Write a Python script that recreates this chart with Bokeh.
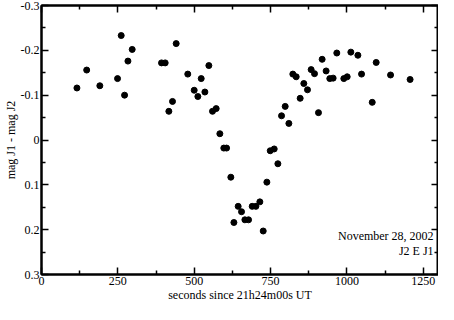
from bokeh.plotting import figure
from bokeh.models import Range1d, LinearAxis, FixedTicker, CustomJSTickFormatter, Label
from bokeh.embed import file_html
from bokeh.resources import INLINE

seconds = [116, 148, 191, 249, 261, 272, 283, 297,
           393, 405, 417, 429, 441, 479, 500, 512, 523, 535, 548, 560, 572, 584,
           597, 606, 620, 630, 644, 655, 666, 678, 690, 702, 715, 726, 738, 749,
           762, 774, 786, 798, 810, 823, 834, 847, 859, 871, 883, 894, 907, 919,
           932, 944, 955, 967, 990, 1001, 1013, 1036, 1048, 1083, 1096, 1143, 1207]
dmag = [-0.116, -0.156, -0.121, -0.137, -0.233, -0.100, -0.176, -0.202,
        -0.172, -0.172, -0.064, -0.086, -0.215, -0.147, -0.111, -0.097, -0.137, -0.107, -0.166, -0.064, -0.070, -0.014,
        0.018, 0.018, 0.083, 0.184, 0.148, 0.160, 0.178, 0.178, 0.148, 0.148, 0.138, 0.203, 0.094, 0.024,
        0.020, 0.053, -0.054, -0.075, -0.037, -0.147, -0.141, -0.093, -0.126, -0.112, -0.157, -0.148, -0.061, -0.180,
        -0.154, -0.137, -0.138, -0.194, -0.137, -0.141, -0.196, -0.189, -0.147, -0.084, -0.173, -0.145, -0.135]

x_ticks = [0, 250, 500, 750, 1000, 1250]
x_minor = [125, 375, 625, 875, 1125]
y_ticks = [-0.3, -0.2, -0.1, 0, 0.1, 0.2, 0.3]
y_minor = [-0.25, -0.15, -0.05, 0.05, 0.15, 0.25]
x_label = "seconds since 21h24m00s UT"
y_label = "mag J1 - mag J2"
notes = ["November 28, 2002", "J2 E J1"]

FONT = "Liberation Serif"

p = figure(width=438, height=304, output_backend="svg", toolbar_location=None,
           x_range=Range1d(0, 1300), y_range=Range1d(0.3, -0.3),
           min_border_left=0, min_border_right=0, min_border_top=5, min_border_bottom=0)
p.grid.visible = False
p.outline_line_color = "black"
p.outline_line_width = 2
p.background_fill_color = "white"
p.border_fill_color = "white"

yfmt = CustomJSTickFormatter(code="return Math.abs(tick) < 1e-9 ? '0' : tick.toFixed(1);")
blank = CustomJSTickFormatter(code="return '';")

def style(ax, labels=True):
    ax.axis_line_color = "black"
    ax.axis_line_width = 2
    ax.major_tick_in = 7
    ax.major_tick_out = 0
    ax.minor_tick_in = 4
    ax.minor_tick_out = 0
    ax.major_tick_line_width = 1.5
    ax.minor_tick_line_width = 1.5
    ax.major_tick_line_color = "black"
    ax.minor_tick_line_color = "black"
    ax.major_label_text_font = FONT
    ax.major_label_text_font_size = "12px"
    ax.major_label_text_color = "black"
    ax.major_label_standoff = 2 if labels else 0
    ax.axis_label_text_font = FONT
    ax.axis_label_text_font_size = "12px"
    ax.axis_label_text_font_style = "normal"
    ax.axis_label_text_color = "black"
    ax.axis_label_standoff = 0

xb = p.xaxis[0]
xb.ticker = FixedTicker(ticks=x_ticks, minor_ticks=x_minor)
xb.axis_label = x_label
style(xb)
yl = p.yaxis[0]
yl.ticker = FixedTicker(ticks=y_ticks, minor_ticks=y_minor)
yl.formatter = yfmt
yl.axis_label = y_label
style(yl)

xt = LinearAxis(ticker=FixedTicker(ticks=x_ticks, minor_ticks=x_minor), formatter=blank)
style(xt, labels=False)
p.add_layout(xt, "above")
yr = LinearAxis(ticker=FixedTicker(ticks=y_ticks, minor_ticks=y_minor), formatter=blank)
style(yr, labels=False)
p.add_layout(yr, "right")

p.scatter(seconds, dmag, size=6, color="black")

for i, t in enumerate(notes):
    p.add_layout(Label(x=1284, y=0.215 + 0.033 * i, text=t, text_align="right",
                       text_baseline="middle", text_font=FONT, text_font_size="12px",
                       text_color="black"))

open("out.html", "w").write(file_html(p, INLINE))
